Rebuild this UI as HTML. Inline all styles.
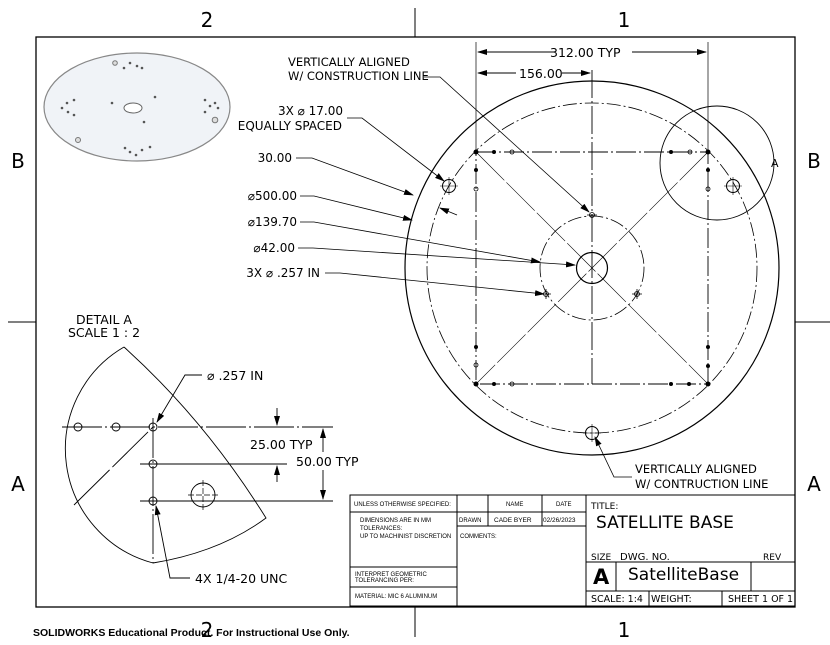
<!DOCTYPE html>
<html><head><meta charset="utf-8"><style>
html,body{margin:0;padding:0;background:#fff;}
svg{display:block;font-family:"DejaVu Sans","Liberation Sans",sans-serif;}
</style></head><body>
<svg width="830" height="645" viewBox="0 0 830 645" xmlns="http://www.w3.org/2000/svg">
<defs>
<marker id="ar" markerWidth="10" markerHeight="6" refX="9" refY="3" orient="auto" markerUnits="userSpaceOnUse"><path d="M0,0 L10,3 L0,6 z" fill="#000"/></marker>
</defs>
<rect width="830" height="645" fill="#fff"/>
<g stroke="#000" fill="none" stroke-width="1">
<rect x="36" y="37" width="759" height="570" stroke-width="1.3"/>
<line x1="415" y1="8" x2="415" y2="37"/><line x1="415" y1="607" x2="415" y2="637"/>
<line x1="8" y1="322" x2="36" y2="322"/><line x1="795" y1="322" x2="830" y2="322"/>
</g>
<g font-size="20" fill="#000" text-anchor="middle">
<text x="207" y="27">2</text><text x="624" y="27">1</text>
<text x="207" y="637">2</text><text x="624" y="637">1</text>
<text x="18" y="168">B</text><text x="814" y="168">B</text>
<text x="18" y="491">A</text><text x="814" y="491">A</text>
</g>
<!-- iso view -->
<g>
<ellipse cx="137" cy="107" rx="93" ry="54" fill="#f0f3f7" stroke="#888" stroke-width="1.2"/>
<ellipse cx="133" cy="108" rx="9" ry="5" fill="#fff" stroke="#666"/>
<g fill="#555">
<circle cx="115" cy="63" r="2.3" fill="#ddd" stroke="#777"/><circle cx="124" cy="68" r="1.3"/><circle cx="130" cy="63" r="1.3"/><circle cx="137" cy="66" r="1.3"/><circle cx="142" cy="68" r="1.3"/>
<circle cx="62" cy="108" r="1.3"/><circle cx="67" cy="103" r="1.3"/><circle cx="68" cy="112" r="1.3"/><circle cx="74" cy="100" r="1.3"/><circle cx="74" cy="115" r="1.3"/>
<circle cx="205" cy="100" r="1.3"/><circle cx="210" cy="106" r="1.3"/><circle cx="205" cy="112" r="1.3"/><circle cx="218" cy="108" r="1.3"/><circle cx="215" cy="103" r="1.3"/>
<circle cx="125" cy="148" r="1.3"/><circle cx="130" cy="152" r="1.3"/><circle cx="136" cy="155" r="1.3"/><circle cx="142" cy="150" r="1.3"/><circle cx="150" cy="147" r="1.3"/>
<circle cx="112" cy="103" r="1.3"/><circle cx="155" cy="97" r="1.3"/><circle cx="144" cy="122" r="1.3"/>
<circle cx="215" cy="120" r="2.8" fill="#ddd" stroke="#777"/><circle cx="78" cy="140" r="2.5" fill="#ddd" stroke="#777"/>
</g>
</g>
<!-- main view -->
<g stroke="#000" fill="none" stroke-width="1">
<circle cx="592" cy="268" r="187" stroke-width="1.2"/>
<circle cx="592" cy="268" r="165" stroke-dasharray="14,3,2,3" stroke-width="0.8"/>
<circle cx="592" cy="268" r="52" stroke-dasharray="14,3,2,3" stroke-width="0.8"/>
<circle cx="592" cy="268" r="15.5" stroke-width="1.2"/>
<circle cx="717" cy="163" r="57" stroke-width="0.9"/>
<rect x="476" y="152" width="232" height="232" stroke-dasharray="20,3,2,3" stroke-width="0.9"/>
<line x1="592" y1="70" x2="592" y2="384" stroke-dasharray="28,3,2,3" stroke-width="0.9"/>
<line x1="476" y1="152" x2="708" y2="384" stroke-width="0.6" stroke-dasharray="40,3"/>
<line x1="708" y1="152" x2="476" y2="384" stroke-width="0.6" stroke-dasharray="40,3"/>
<line x1="476" y1="42" x2="476" y2="152" stroke-width="0.7"/>
<line x1="708" y1="42" x2="708" y2="152" stroke-width="0.7"/>
<line x1="555" y1="52" x2="478" y2="52" marker-end="url(#ar)"/>
<line x1="632" y1="52" x2="706" y2="52" marker-end="url(#ar)"/>
<line x1="516" y1="73" x2="478" y2="73" marker-end="url(#ar)"/>
<line x1="562" y1="73" x2="590" y2="73" marker-end="url(#ar)"/>
<g stroke-width="1">
<circle cx="449" cy="186" r="6.5"/><circle cx="733" cy="186" r="6.5"/><circle cx="592" cy="433" r="6.5"/>
<path d="M440,186h18M449,177v18M724,186h18M733,177v18M583,433h18M592,424v18" stroke-width="0.6"/>
</g>
<g stroke-width="0.8">
<circle cx="546" cy="294" r="2.5"/><circle cx="637" cy="294" r="2.5"/><circle cx="592" cy="215" r="2.5"/>
<path d="M541,294h10M546,289v10M632,294h10M637,289v10M587,215h10"/>
</g>
<g fill="#000" stroke="none">
<circle cx="476" cy="152" r="2.5"/><circle cx="708" cy="152" r="2.5"/><circle cx="476" cy="384" r="2.5"/><circle cx="708" cy="384" r="2.5"/>
<circle cx="494" cy="152" r="2"/><circle cx="671" cy="152" r="2"/>
<circle cx="476" cy="170" r="2"/><circle cx="708" cy="170" r="2"/>
<circle cx="476" cy="347" r="2"/><circle cx="708" cy="347" r="2"/>
<circle cx="494" cy="384" r="2"/><circle cx="671" cy="384" r="2"/><circle cx="689" cy="384" r="2"/><circle cx="708" cy="366" r="2"/>
</g>
<g stroke-width="0.8">
<circle cx="512" cy="152" r="2"/><circle cx="690" cy="152" r="2"/><circle cx="476" cy="189" r="2"/><circle cx="708" cy="189" r="2"/>
<circle cx="476" cy="365" r="2"/><circle cx="512" cy="384" r="2"/>
</g>
<polyline points="424,77 440,77 589,212" marker-end="url(#ar)" stroke-width="0.8"/>
<polyline points="347,118 362,118 444,181" marker-end="url(#ar)" stroke-width="0.8"/>
<polyline points="296,158 312,158 413,195" marker-end="url(#ar)" stroke-width="0.8"/>
<polyline points="300,196 314,196 412,220" marker-end="url(#ar)" stroke-width="0.8"/>
<polyline points="300,222 314,222 540,262" marker-end="url(#ar)" stroke-width="0.8"/>
<polyline points="298,248 313,248 575,265" marker-end="url(#ar)" stroke-width="0.8"/>
<polyline points="325,273 340,273 544,294" marker-end="url(#ar)" stroke-width="0.8"/>
<line x1="457" y1="215" x2="440" y2="208" marker-end="url(#ar)" stroke-width="0.8"/>
<polyline points="632,477 614,477 595,437" marker-end="url(#ar)" stroke-width="0.8"/>
</g>
<g font-size="12" fill="#000">
<text x="550" y="57" font-size="12.5">312.00 TYP</text>
<text x="519" y="78" font-size="12.5">156.00</text>
<text x="288" y="66" font-size="11.5">VERTICALLY ALIGNED</text>
<text x="288" y="80" font-size="11.5">W/ CONSTRUCTION LINE</text>
<text x="343" y="115" text-anchor="end" font-size="12">3X ⌀ 17.00</text>
<text x="342" y="130" text-anchor="end" font-size="12">EQUALLY SPACED</text>
<text x="292" y="162" text-anchor="end">30.00</text>
<text x="297" y="200" text-anchor="end">⌀500.00</text>
<text x="297" y="226" text-anchor="end">⌀139.70</text>
<text x="295" y="252" text-anchor="end">⌀42.00</text>
<text x="320" y="277" text-anchor="end">3X ⌀ .257 IN</text>
<text x="635" y="473" font-size="11.5">VERTICALLY ALIGNED</text>
<text x="635" y="488" font-size="11.5">W/ CONTRUCTION LINE</text>
<text x="771" y="167" font-size="11">A</text>
</g>
<!-- detail A -->
<g stroke="#000" fill="none" stroke-width="0.9">
<path d="M124,347 A118 118 0 0 0 153,563 Q220,552 266,518 Q205,420 124,347"/>
<line x1="62" y1="427" x2="333" y2="427" stroke-dasharray="40,3,2,3"/>
<line x1="140" y1="464" x2="287" y2="464"/>
<line x1="140" y1="501" x2="333" y2="501"/>
<line x1="153" y1="418" x2="153" y2="563" stroke-dasharray="40,3,2,3"/>
<line x1="74" y1="505" x2="153" y2="427" stroke-dasharray="50,4"/>
<circle cx="78" cy="427" r="4"/><circle cx="116" cy="427" r="4"/><circle cx="153" cy="427" r="4"/>
<circle cx="153" cy="464" r="4"/><circle cx="153" cy="501" r="4"/>
<circle cx="203" cy="495" r="12"/>
<path d="M188,495h30M203,480v30" stroke-dasharray="6,2" stroke-width="0.7"/>
<line x1="277" y1="408" x2="277" y2="425" marker-end="url(#ar)"/>
<line x1="277" y1="482" x2="277" y2="466" marker-end="url(#ar)"/>
<line x1="323" y1="452" x2="323" y2="429" marker-end="url(#ar)"/>
<line x1="323" y1="470" x2="323" y2="499" marker-end="url(#ar)"/>
<polyline points="202,375 185,375 157,422" marker-end="url(#ar)"/>
<polyline points="190,578 170,578 156,506" marker-end="url(#ar)"/>
</g>
<g font-size="12.5" fill="#000">
<text x="104" y="324" text-anchor="middle">DETAIL A</text>
<text x="104" y="337" text-anchor="middle">SCALE 1 : 2</text>
<text x="207" y="380">⌀ .257 IN</text>
<text x="250" y="449">25.00 TYP</text>
<text x="296" y="466">50.00 TYP</text>
<text x="195" y="583">4X 1/4-20 UNC</text>
</g>
<!-- title block -->
<g stroke="#000" fill="none" stroke-width="1">
<rect x="350" y="495" width="445" height="111"/>
<line x1="457" y1="495" x2="457" y2="606"/>
<line x1="488" y1="495" x2="488" y2="526"/>
<line x1="542" y1="495" x2="542" y2="526"/>
<line x1="586" y1="495" x2="586" y2="606"/>
<line x1="350" y1="512" x2="586" y2="512"/>
<line x1="457" y1="526" x2="586" y2="526"/>
<line x1="350" y1="567" x2="457" y2="567"/>
<line x1="350" y1="587" x2="457" y2="587"/>
<line x1="586" y1="562" x2="795" y2="562"/>
<line x1="586" y1="591" x2="795" y2="591"/>
<line x1="616" y1="562" x2="616" y2="591"/>
<line x1="751" y1="562" x2="751" y2="591"/>
<line x1="649" y1="591" x2="649" y2="606"/>
<line x1="722" y1="591" x2="722" y2="606"/>
<line x1="415" y1="606" x2="415" y2="637"/>
</g>
<g fill="#000" font-size="6" font-family="Liberation Sans, sans-serif">
<text x="354" y="506">UNLESS OTHERWISE SPECIFIED:</text>
<text x="506" y="506">NAME</text><text x="556" y="506">DATE</text>
<text x="360" y="522">DIMENSIONS ARE IN MM</text>
<text x="360" y="530">TOLERANCES:</text>
<text x="360" y="538">UP TO MACHINIST DISCRETION</text>
<text x="459" y="522">DRAWN</text>
<text x="494" y="522" font-size="6.5">CADE BYER</text>
<text x="543" y="522" font-size="6.5">02/26/2023</text>
<text x="460" y="538">COMMENTS:</text>
<text x="355" y="576">INTERPRET GEOMETRIC</text>
<text x="355" y="582">TOLERANCING PER:</text>
<text x="355" y="598">MATERIAL: MIC 6 ALUMINUM</text>
</g>
<g fill="#000">
<text x="591" y="509" font-size="9">TITLE:</text>
<text x="596" y="528" font-size="17">SATELLITE BASE</text>
<text x="591" y="560" font-size="9">SIZE</text>
<text x="620" y="560" font-size="10">DWG.  NO.</text>
<text x="763" y="560" font-size="9">REV</text>
<text x="593" y="584" font-size="21" font-weight="bold">A</text>
<text x="628" y="580" font-size="17">SatelliteBase</text>
<text x="591" y="602" font-size="9.5">SCALE: 1:4</text>
<text x="651" y="602" font-size="9.5">WEIGHT:</text>
<text x="728" y="602" font-size="9.5">SHEET 1 OF 1</text>
</g>
<text x="33" y="636" font-size="10.5" font-weight="bold" fill="#000" font-family="Liberation Sans, sans-serif">SOLIDWORKS Educational Product. For Instructional Use Only.</text>
</svg>
</body></html>
